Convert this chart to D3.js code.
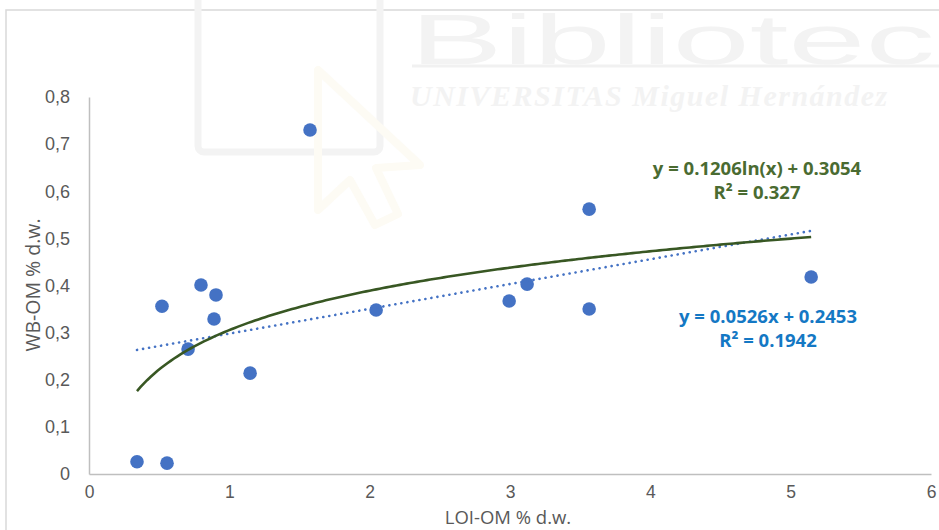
<!DOCTYPE html>
<html>
<head>
<meta charset="utf-8">
<script src="https://cdn.jsdelivr.net/npm/d3@7/dist/d3.min.js"></script>
<style>
  html, body { margin: 0; padding: 0; background: #fff; }
  svg { display: block; font-family: "Open Sans", "Noto Sans", sans-serif; }
</style>
</head>
<body>
<svg id="chart" width="939" height="530"></svg>
<script>
// LOI-OM vs WB-OM samples (% dry weight)
const loiOM = [0.342, 0.556, 0.520, 0.706, 0.798, 0.905, 0.891, 1.148, 1.575, 2.046, 2.994, 3.122, 3.564, 3.564, 5.146];
const wbOM  = [0.026, 0.023, 0.356, 0.265, 0.401, 0.380, 0.329, 0.214, 0.730, 0.348, 0.367, 0.403, 0.562, 0.350, 0.418];

// Fitted trendlines
const logFit = { a: 0.1206, b: 0.3054, label: "y = 0.1206ln(x) + 0.3054", r2: "R² = 0.327" };
const linFit = { m: 0.0526, c: 0.2453, label: "y = 0.0526x + 0.2453", r2: "R² = 0.1942" };

const xTicks = [0, 1, 2, 3, 4, 5, 6];
const yTicks = [0, 0.1, 0.2, 0.3, 0.4, 0.5, 0.6, 0.7, 0.8];

const svg = d3.select("#chart");

// chart frame
svg.append("rect").attr("x", 6).attr("y", 10).attr("width", 960).attr("height", 540)
  .attr("fill", "none").attr("stroke", "#d9d9d9").attr("stroke-width", 1.5);

// faint library watermark
const wm = svg.append("g").attr("pointer-events", "none");
wm.append("rect").attr("x", 198).attr("y", -20).attr("width", 182).attr("height", 172).attr("rx", 6)
  .attr("fill", "none").attr("stroke", "#f3f3f3").attr("stroke-width", 7);
wm.append("path").attr("d", "M318,70 L318,210 L350,180 L375,225 L398,214 L376,168 L420,165 Z")
  .attr("fill", "none").attr("stroke", "#fdfbf4").attr("stroke-width", 8).attr("stroke-linejoin", "round");
wm.append("text").attr("x", 410).attr("y", 64).attr("font-size", 70)
  .attr("textLength", 525).attr("lengthAdjust", "spacingAndGlyphs")
  .attr("font-family", "Liberation Sans, sans-serif").attr("fill", "#f3f3f3").text("Bibliotec");
wm.append("line").attr("x1", 412).attr("x2", 939).attr("y1", 66).attr("y2", 66)
  .attr("stroke", "#f1f1f1").attr("stroke-width", 3);
wm.append("text").attr("x", 410).attr("y", 106).attr("font-size", 30).attr("font-style", "italic")
  .attr("font-weight", "bold").attr("font-family", "Liberation Serif, serif").attr("fill", "#f3f3f3")
  .attr("letter-spacing", 1.5).text("UNIVERSITAS Miguel Hernández");

const x = d3.scaleLinear().domain([0, 6]).range([89, 931]);
const y = d3.scaleLinear().domain([0, 0.8]).range([474, 97]);

const tickColor = "#595959";
const fmt = d => d === 0 ? "0" : d3.format(".1f")(d).replace(".", ",");

// y axis
const yAxis = svg.append("g").attr("transform", `translate(${x(0)},0)`)
  .call(d3.axisLeft(y).tickValues(yTicks).tickFormat(fmt).tickSize(0).tickPadding(19));
yAxis.select(".domain").attr("stroke", "#bfbfbf").attr("stroke-width", 1.5);
yAxis.selectAll("text").attr("fill", tickColor).attr("font-size", 18);

// x axis
const xAxis = svg.append("g").attr("transform", `translate(0,${y(0)})`)
  .call(d3.axisBottom(x).tickValues(xTicks).tickFormat(d3.format("d")).tickSize(0).tickPadding(12));
xAxis.select(".domain").attr("stroke", "#bfbfbf").attr("stroke-width", 1.5);
xAxis.selectAll("text").attr("fill", tickColor).attr("font-size", 17.5);

// axis titles
svg.append("text").attr("x", 508).attr("y", 524).attr("text-anchor", "middle")
  .attr("font-size", 18.5).attr("fill", tickColor).text("LOI-OM % d.w.");
svg.append("text").attr("transform", "translate(40,285) rotate(-90)").attr("text-anchor", "middle")
  .attr("font-size", 19.5).attr("fill", tickColor).text("WB-OM % d.w.");

// points
const pts = loiOM.map((v, i) => ({ x: v, y: wbOM[i] }));
svg.append("g").selectAll("circle").data(pts).join("circle")
  .attr("cx", d => x(d.x)).attr("cy", d => y(d.y)).attr("r", 6.8)
  .attr("fill", "#4472c4");

// trendlines over the sampled range
const xMin = d3.min(loiOM), xMax = d3.max(loiOM);
const xs = d3.range(0, 201).map(i => xMin + (xMax - xMin) * i / 200);

svg.append("path")
  .attr("d", d3.line().x(d => x(d)).y(d => y(linFit.m * d + linFit.c))([xMin, xMax]))
  .attr("fill", "none").attr("stroke", "#4472c4").attr("stroke-width", 2.6)
  .attr("stroke-dasharray", "0.1 6").attr("stroke-linecap", "round");

svg.append("path")
  .attr("d", d3.line().x(d => x(d)).y(d => y(logFit.a * Math.log(d) + logFit.b))(xs))
  .attr("fill", "none").attr("stroke", "#385723").attr("stroke-width", 2.6);

// equation labels
const green = "#4a6b31", blue = "#1478c4";
function eq(cx, cy, lines, color) {
  const t = svg.append("text").attr("text-anchor", "middle").attr("font-size", 18.5)
    .attr("font-weight", "bold").attr("fill", color);
  lines.forEach((s, i) => t.append("tspan").attr("x", cx).attr("y", cy + i * 24).text(s));
}
eq(757, 175, [logFit.label, logFit.r2], green);
eq(768, 323, [linFit.label, linFit.r2], blue);
</script>
</body>
</html>
